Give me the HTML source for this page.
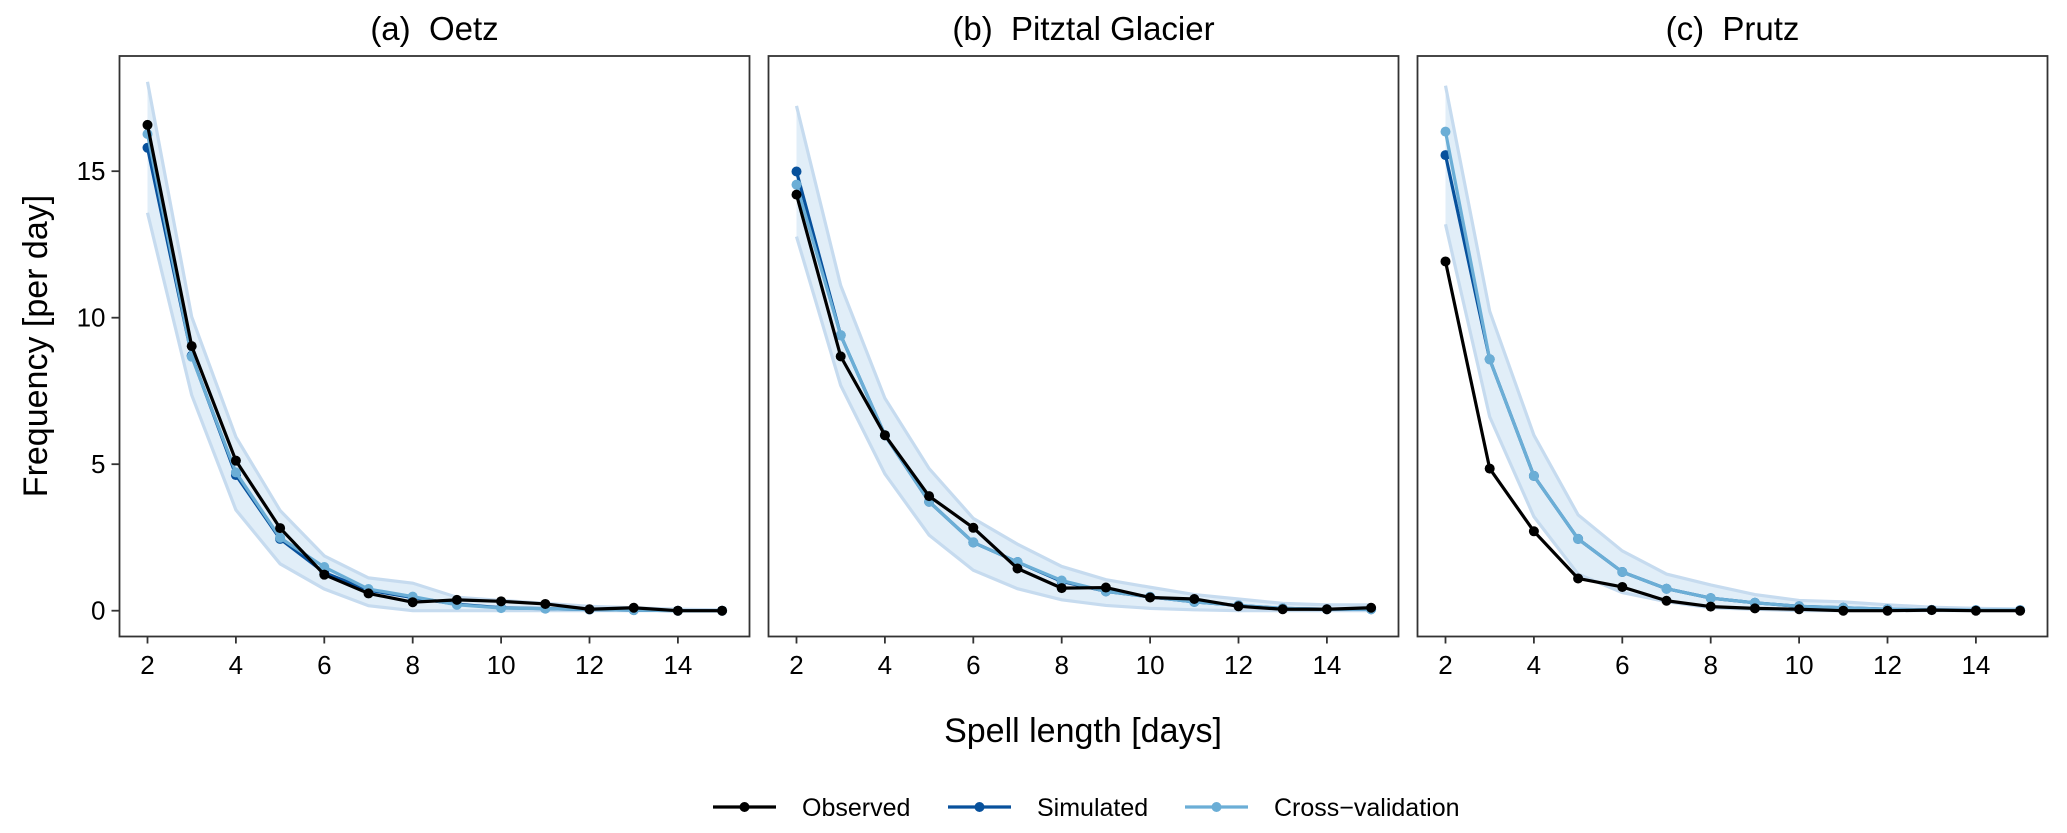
<!DOCTYPE html>
<html><head><meta charset="utf-8"><style>
body{margin:0;background:#fff;}
svg text{font-family:"Liberation Sans",sans-serif;fill:#000;}
</style></head><body>
<svg id="chart" width="2067" height="828" xmlns="http://www.w3.org/2000/svg"></svg>
<script>
const days=[2,3,4,5,6,7,8,9,10,11,12,13,14,15];
const panelTitles=["(a)\u00a0\u00a0Oetz","(b)\u00a0\u00a0Pitztal Glacier","(c)\u00a0\u00a0Prutz"];
const obsA=[16.58,9.03,5.12,2.82,1.23,0.59,0.29,0.37,0.32,0.23,0.05,0.1,0.0,0.0];
const simA=[15.8,8.7,4.63,2.45,1.3,0.7,0.45,0.22,0.1,0.07,0.04,0.02,0.0,0.0];
const cvA=[16.27,8.67,4.72,2.49,1.49,0.74,0.48,0.2,0.09,0.07,0.04,0.02,0.0,0.0];
const loA=[13.58,7.36,3.44,1.6,0.74,0.17,0.0,0.0,0.0,0.0,0.0,0.0,0.0,0.0];
const hiA=[18.05,10.03,5.93,3.42,1.87,1.12,0.94,0.46,0.35,0.25,0.15,0.1,0.05,0.03];
const obsB=[14.2,8.68,5.99,3.91,2.83,1.44,0.77,0.79,0.45,0.4,0.15,0.05,0.05,0.1];
const simB=[14.99,9.4,5.99,3.72,2.33,1.66,1.0,0.66,0.47,0.3,0.18,0.08,0.05,0.05];
const cvB=[14.54,9.4,5.99,3.72,2.33,1.66,1.03,0.66,0.47,0.3,0.18,0.08,0.05,0.05];
const loB=[12.77,7.69,4.67,2.58,1.38,0.75,0.37,0.18,0.08,0.03,0.0,0.0,0.0,0.0];
const hiB=[17.23,11.1,7.25,4.85,3.15,2.27,1.51,1.06,0.8,0.55,0.4,0.25,0.2,0.2];
const obsC=[11.92,4.85,2.71,1.1,0.81,0.34,0.14,0.08,0.05,0.0,0.0,0.02,0.0,0.0];
const simC=[15.55,8.58,4.6,2.45,1.32,0.75,0.43,0.27,0.15,0.1,0.05,0.03,0.02,0.02];
const cvC=[16.35,8.58,4.6,2.45,1.32,0.75,0.43,0.27,0.15,0.1,0.05,0.03,0.02,0.02];
const loC=[13.19,6.62,3.21,1.25,0.62,0.31,0.1,0.05,0.0,0.0,0.0,0.0,0.0,0.0];
const hiC=[17.92,10.22,5.99,3.27,2.04,1.25,0.88,0.55,0.35,0.3,0.2,0.12,0.08,0.06];
const xTicks=[2,4,6,8,10,12,14];
const yTicks=[0,5,10,15];
const legendLabels=["Observed","Simulated","Cross\u2212validation"];

const NS="http://www.w3.org/2000/svg";
const svg=document.getElementById('chart');
function mk(tag,attrs,parent){const e=document.createElementNS(NS,tag);for(const k in attrs)e.setAttribute(k,attrs[k]);(parent||svg).appendChild(e);return e;}
const colObs="#000000",colSim="#08519c",colCv="#6baed6";
const panelLefts=[119.5,768.5,1417.5];
const pw=630,plotTop=56,plotBottom=636.5;
const yS=v=>610.7-v*29.3;
const panels=[[obsA,simA,cvA,loA,hiA],[obsB,simB,cvB,loB,hiB],[obsC,simC,cvC,loC,hiC]];
const keys=["oetz","pitztal","prutz"];
panels.forEach((p,i)=>{
  const L=panelLefts[i];
  const xS=d=>L+28+(d-2)*44.2;
  const g=mk('g',{});
  
  
  const t=mk('text',{x:L+pw/2,y:40,'font-size':33,'text-anchor':'middle'},g);t.textContent=panelTitles[i];
  
  
  const [obs,sim,cv,lo,hi]=p;
  const up=days.map((d,j)=>xS(d)+','+yS(hi[j]));
  const dn=days.map((d,j)=>xS(d)+','+yS(lo[j])).reverse();
  const band=mk('polygon',{points:up.concat(dn).join(' '),fill:'#e1eef8',stroke:'none'},g);
  
  
  [hi,lo].forEach(arr=>{const l=mk('polyline',{points:days.map((d,j)=>xS(d)+','+yS(arr[j])).join(' '),fill:'none',stroke:'#c6dbef','stroke-width':3.2},g);
    
    });
  [[sim,colSim,'simulated'],[cv,colCv,'cross-validation'],[obs,colObs,'observed']].forEach(([arr,c,n])=>{
    const l=mk('polyline',{points:days.map((d,j)=>xS(d)+','+yS(arr[j])).join(' '),fill:'none',stroke:c,'stroke-width':3.2,'stroke-linejoin':'round'},g);
    
    
    days.forEach((d,j)=>{const pt=mk('circle',{cx:xS(d),cy:yS(arr[j]),r:5,fill:c},g);
      
      });
  });
  const fr=mk('rect',{x:L,y:plotTop,width:pw,height:plotBottom-plotTop,fill:'none',stroke:'#333','stroke-width':1.8},g);
  
  
  xTicks.forEach(v=>{mk('line',{x1:xS(v),x2:xS(v),y1:plotBottom,y2:plotBottom+7,stroke:'#333','stroke-width':1.8},g);
    const tl=mk('text',{x:xS(v),y:674,'font-size':26,'text-anchor':'middle'},g);tl.textContent=v;
    
    });
  if(i===0){yTicks.forEach(v=>{mk('line',{x1:L-8,x2:L,y1:yS(v),y2:yS(v),stroke:'#333','stroke-width':1.8},g);
    const tl=mk('text',{x:L-14,y:yS(v)+9,'font-size':26,'text-anchor':'end'},g);tl.textContent=v;
    
    });}
});
const xt=mk('text',{x:1083,y:742,'font-size':34,'text-anchor':'middle'});xt.textContent="Spell length [days]";


const yt=mk('text',{x:0,y:0,'font-size':34,'text-anchor':'middle',transform:'translate(47,346) rotate(-90)'});yt.textContent="Frequency [per day]";


const legX=[713,948,1185],legCols=[colObs,colSim,colCv];
legendLabels.forEach((lab,i)=>{
  const g=mk('g',{});
  
  
  mk('line',{x1:legX[i],x2:legX[i]+63,y1:807,y2:807,stroke:legCols[i],'stroke-width':3.2},g);
  mk('circle',{cx:legX[i]+31.5,cy:807,r:5,fill:legCols[i]},g);
  const t=mk('text',{x:legX[i]+89,y:816,'font-size':25},g);t.textContent=lab;
});
</script>
</body></html>
